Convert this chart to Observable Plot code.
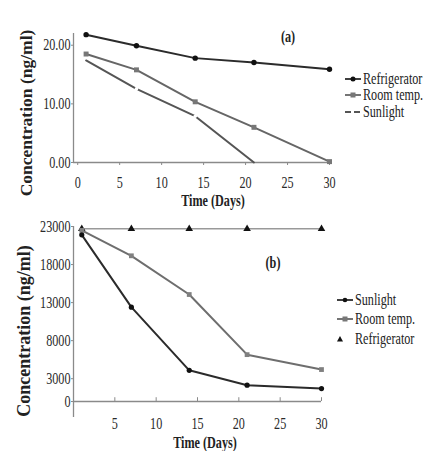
<!DOCTYPE html>
<html>
<head>
<meta charset="utf-8">
<script src="https://cdn.jsdelivr.net/npm/d3@7"></script>
<script src="https://cdn.jsdelivr.net/npm/@observablehq/plot@0.6"></script>
<style>
  html, body { margin: 0; padding: 0; background: #fff; }
  #chart { position: relative; width: 432px; height: 451px; overflow: hidden; background: #fff; font-family: "Liberation Serif", serif; color: #222; }
  #chart svg.plot { position: absolute; left: 0; }
  .lbl { position: absolute; white-space: nowrap; line-height: 1; }
  .ytitle { position: absolute; white-space: nowrap; font-weight: bold; line-height: 1; transform: translate(-50%, -50%) rotate(-90deg); }
  .legrow { position: absolute; display: flex; align-items: center; white-space: nowrap; font-size: 16px; line-height: 1; }
  .legrow span { display: inline-block; transform: scaleX(0.76); transform-origin: left center; }
</style>
</head>
<body>
<div id="chart"></div>
<script>
// ---- data ----
const days = [1, 7, 14, 21, 30];
// panel (a)
const aRefrigerator = [21.8, 19.9, 17.8, 17.05, 15.9];
const aRoomTemp = [18.5, 15.8, 10.35, 6.0, 0.15];
const aSunlightDays = [1, 7, 14, 21];
const aSunlight = [17.4, 12.55, 7.9, 0];
const aXTicks = [0, 5, 10, 15, 20, 25, 30];
const aYTicks = [0, 10, 20];
const aNames = ["Refrigerator", "Room temp.", "Sunlight"];
// panel (b)
const bSunlight = [21900, 12400, 4100, 2150, 1700];
const bRoomTemp = [22500, 19150, 14060, 6160, 4200];
const bRefrigerator = [22700, 22700, 22700, 22700, 22700];
const bXTicks = [5, 10, 15, 20, 25, 30];
const bYTicks = [0, 3000, 8000, 13000, 18000, 23000];
const bNames = ["Sunlight", "Room temp.", "Refrigerator"];

const rows = (xs, ys) => xs.map((x, i) => ({x, y: ys[i]}));
const refA = rows(days, aRefrigerator);
const roomA = rows(days, aRoomTemp);
const sunA = rows(aSunlightDays, aSunlight);
const sunB = rows(days, bSunlight);
const roomB = rows(days, bRoomTemp);
const refB = rows(days, bRefrigerator);

const chart = document.getElementById("chart");
const style = {fontFamily: "Liberation Serif, serif", fontSize: "16px", color: "#2a2a2a", background: "transparent", overflow: "visible"};

// ---- panel (a) ----
const aXDomain = [-0.5, 30];
const plotA = Plot.plot({
  width: 432, height: 210,
  marginLeft: 73, marginRight: 103, marginTop: 33, marginBottom: 48,
  x: {domain: aXDomain},
  y: {domain: [0, 22]},
  style,
  marks: [
    Plot.ruleX([aXDomain[0]], {stroke: "#8a8a8a", strokeWidth: 1.3}),
    Plot.ruleY([0], {stroke: "#8a8a8a", strokeWidth: 1.3}),
    Plot.axisX({ticks: aXTicks, tickSize: 3, tickPadding: 11, tickFormat: d => String(d), label: null, stroke: "#8a8a8a"}),
    Plot.axisY({ticks: aYTicks, tickSize: 2, tickPadding: 1, tickFormat: d => d.toFixed(2), label: null, stroke: "#8a8a8a"}),
    Plot.line(sunA, {x: "x", y: "y", stroke: "#555", strokeWidth: 2}),
    Plot.dot(sunA, {filter: (d, i) => i > 0 && i < sunA.length - 1, x: "x", y: "y", r: 1.8, fill: "#fff", stroke: "none"}),
    Plot.line(roomA, {x: "x", y: "y", stroke: "#666", strokeWidth: 2}),
    Plot.dot(roomA, {x: "x", y: "y", symbol: "square", r: 2.8, fill: "#777", stroke: "none"}),
    Plot.line(refA, {x: "x", y: "y", stroke: "#2b2b2b", strokeWidth: 2}),
    Plot.dot(refA, {x: "x", y: "y", r: 2.7, fill: "#111", stroke: "none"})
  ]
});
plotA.classList.add("plot");
plotA.style.top = "0px";
chart.appendChild(plotA);

// ---- panel (b) ----
const plotB = Plot.plot({
  width: 432, height: 241,
  marginLeft: 73, marginRight: 111, marginTop: 16, marginBottom: 34,
  x: {domain: [0, 30]},
  y: {domain: [-2100, 23000]},
  style,
  marks: [
    Plot.ruleX([0], {stroke: "#8a8a8a", strokeWidth: 1.3}),
    Plot.ruleY([0], {stroke: "#8a8a8a", strokeWidth: 1.3}),
    Plot.ruleX(bXTicks, {x: d => d, y1: 0, y2: 500, stroke: "#8a8a8a"}),
    Plot.axisX({ticks: bXTicks, tickSize: 0, tickPadding: 0, tickFormat: d => String(d), label: null}),
    Plot.axisY({ticks: bYTicks, tickSize: 2, tickPadding: 1, tickFormat: d => String(d), label: null, stroke: "#8a8a8a"}),
    Plot.line(refB, {x: "x", y: "y", stroke: "#999", strokeWidth: 1.6}),
    Plot.dot(refB, {x: "x", y: "y", symbol: "triangle", r: 2.8, fill: "#111", stroke: "none"}),
    Plot.line(roomB, {x: "x", y: "y", stroke: "#6e6e6e", strokeWidth: 2}),
    Plot.dot(roomB, {x: "x", y: "y", symbol: "square", r: 2.7, fill: "#808080", stroke: "none"}),
    Plot.line(sunB, {x: "x", y: "y", stroke: "#2b2b2b", strokeWidth: 2}),
    Plot.dot(sunB, {x: "x", y: "y", r: 2.6, fill: "#111", stroke: "none"})
  ]
});
plotB.classList.add("plot");
plotB.style.top = "210px";
chart.appendChild(plotB);

// horizontal squeeze of tick labels to match the reference's narrow type
for (const t of chart.querySelectorAll("svg.plot text")) {
  const L = t.getComputedTextLength();
  if (L > 0) {
    t.setAttribute("textLength", (L * 0.76).toFixed(2));
    t.setAttribute("lengthAdjust", "spacingAndGlyphs");
  }
}

// ---- text labels ----
function label(text, cx, cy, size, bold) {
  const d = document.createElement("div");
  d.className = "lbl";
  d.textContent = text;
  d.style.fontSize = size + "px";
  if (bold) d.style.fontWeight = "bold";
  d.style.left = cx + "px";
  d.style.top = cy + "px";
  d.style.transform = "translate(-50%, -50%) scaleX(0.76)";
  chart.appendChild(d);
}
function ytitle(text, cx, cy, size) {
  const d = document.createElement("div");
  d.className = "ytitle";
  d.textContent = text;
  d.style.fontSize = size + "px";
  d.style.left = cx + "px";
  d.style.top = cy + "px";
  chart.appendChild(d);
}
label("(a)", 288, 37, 16, true);
label("Time (Days)", 213, 201, 16, true);
ytitle("Concentration (ng/ml)", 27, 113, 17.5);
label("(b)", 273, 263, 16, true);
label("Time (Days)", 205, 443, 16, true);
ytitle("Concentration (ng/ml)", 24, 331, 18);

// ---- legends ----
const NS = "http://www.w3.org/2000/svg";
function sample(kind) {
  const s = document.createElementNS(NS, "svg");
  s.setAttribute("width", 17); s.setAttribute("height", 10);
  s.style.marginRight = "1px";
  s.style.overflow = "visible";
  const line = (stroke, dash) => {
    const l = document.createElementNS(NS, "line");
    l.setAttribute("x1", 0); l.setAttribute("x2", 16); l.setAttribute("y1", 5); l.setAttribute("y2", 5);
    l.setAttribute("stroke", stroke); l.setAttribute("stroke-width", 1.8);
    if (dash) l.setAttribute("stroke-dasharray", dash);
    s.appendChild(l);
  };
  if (kind === "ref") {
    line("#2b2b2b");
    const c = document.createElementNS(NS, "circle");
    c.setAttribute("cx", 8); c.setAttribute("cy", 5); c.setAttribute("r", 2.5); c.setAttribute("fill", "#111");
    s.appendChild(c);
  } else if (kind === "room") {
    line("#666");
    const r = document.createElementNS(NS, "rect");
    r.setAttribute("x", 5.5); r.setAttribute("y", 2.5); r.setAttribute("width", 5); r.setAttribute("height", 5); r.setAttribute("fill", "#777");
    s.appendChild(r);
  } else if (kind === "sunDash") {
    line("#555", "6,3");
  } else if (kind === "sunDot") {
    line("#2b2b2b");
    const c = document.createElementNS(NS, "circle");
    c.setAttribute("cx", 8); c.setAttribute("cy", 5); c.setAttribute("r", 2.3); c.setAttribute("fill", "#111");
    s.appendChild(c);
  } else if (kind === "tri") {
    const p = document.createElementNS(NS, "path");
    p.setAttribute("d", "M3,2 L6,7.5 L0,7.5 Z");
    p.setAttribute("fill", "#111");
    s.appendChild(p);
  }
  return s;
}
function legend(names, kinds, left, ys) {
  names.forEach((n, i) => {
    const row = document.createElement("div");
    row.className = "legrow";
    row.style.left = left + "px";
    row.style.top = (ys[i] - 8) + "px";
    row.style.height = "16px";
    row.appendChild(sample(kinds[i]));
    const sp = document.createElement("span");
    sp.textContent = n;
    row.appendChild(sp);
    chart.appendChild(row);
  });
}
legend(aNames, ["ref", "room", "sunDash"], 345, [79, 95, 112]);
legend(bNames, ["sunDot", "room", "tri"], 337, [300, 319, 339]);
</script>
</body>
</html>
